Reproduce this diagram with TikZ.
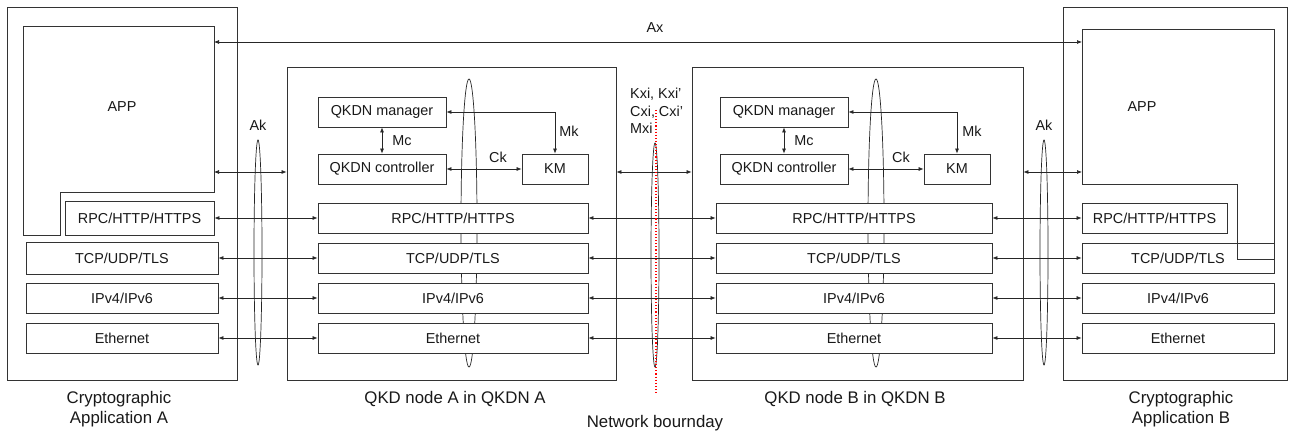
\documentclass[tikz,border=0pt]{standalone}
\usepackage{fontspec}
\setmainfont{Liberation Sans}
\usetikzlibrary{arrows.meta}
\begin{document}
\begin{tikzpicture}[x=1pt,y=-1pt,
  every node/.style={font=\fontsize{14.4}{17}\selectfont, text=black!90},
  box/.style={draw=black!80, line width=0.8pt, fill=white, inner sep=0pt, minimum height=30},
  obox/.style={draw=black!80, line width=0.8pt, inner sep=0pt},
  ln/.style={draw=black!80, line width=0.8pt},
  arr/.style={draw=black!85, line width=0.7pt, {Latex[length=5pt,width=4pt]}-{Latex[length=5pt,width=4pt]}},
  big/.style={font=\fontsize{16.8}{20}\selectfont},
  ell/.style={draw=black!85, line width=0.7pt}]

\fill[white] (0,0) rectangle (1292,435);
\useasboundingbox (0,0) rectangle (1292,435);

% outer frames
\node[obox, minimum width=230, minimum height=373] (appAo) at (122,193.5) {};
\node[obox, minimum width=329, minimum height=313] (nodeA) at (451.5,223.5) {};
\node[obox, minimum width=331, minimum height=313] (nodeB) at (857.5,223.5) {};
\node[obox, minimum width=224, minimum height=373] (appBo) at (1175,193.5) {};

% ellipses inside QKD nodes (partly hidden by boxes)
\draw[ell] (469,223) ellipse [x radius=8, y radius=144];
\draw[ell] (876,223) ellipse [x radius=8, y radius=144];

% Application A
\draw[ln] (23,26) -- (214,26) -- (214,192) -- (60,192) -- (60,235) -- (23,235) -- cycle;
\node (appA) at (122,107) {APP};
\node[obox, minimum width=149, minimum height=34] (rpcA) at (139.5,218) {RPC/HTTP/HTTPS};
\node[obox, minimum width=192, minimum height=32] (tcpA) at (122,258) {TCP/UDP/TLS};
\node[obox, minimum width=192, minimum height=30] (ipA) at (122,298) {IPv4/IPv6};
\node[obox, minimum width=192, minimum height=30] (ethA) at (122,338) {Ethernet};

% QKD node A
\node[box, minimum width=128] (mgrA) at (382,112) {QKDN manager};
\node[box, minimum width=128] (ctrlA) at (382,169) {QKDN controller};
\node[box, minimum width=66] (kmA) at (555,169) {KM};
\node[box, minimum width=270] (rpcN) at (453,218) {RPC/HTTP/HTTPS};
\node[box, minimum width=270] (tcpN) at (453,258) {TCP/UDP/TLS};
\node[box, minimum width=270] (ipN) at (453,298) {IPv4/IPv6};
\node[box, minimum width=270] (ethN) at (453,338) {Ethernet};

% QKD node B
\node[box, minimum width=128] (mgrB) at (784,112) {QKDN manager};
\node[box, minimum width=128] (ctrlB) at (784,169) {QKDN controller};
\node[box, minimum width=66] (kmB) at (957,169) {KM};
\node[box, minimum width=276] (rpcM) at (854,218) {RPC/HTTP/HTTPS};
\node[box, minimum width=276] (tcpM) at (854,258) {TCP/UDP/TLS};
\node[box, minimum width=276] (ipM) at (854,298) {IPv4/IPv6};
\node[box, minimum width=276] (ethM) at (854,338) {Ethernet};

% Application B
\node[obox, minimum width=145, minimum height=30] (rpcB) at (1154.5,218) {RPC/HTTP/HTTPS};
\node[obox, minimum width=192, minimum height=30] (tcpB) at (1178,258) {TCP/UDP/TLS};
\node[obox, minimum width=192, minimum height=30] (ipB) at (1178,298) {IPv4/IPv6};
\node[obox, minimum width=192, minimum height=30] (ethB) at (1178,338) {Ethernet};
\draw[ln] (1082,29) -- (1274,29) -- (1274,259) -- (1237,259) -- (1237,184) -- (1082,184) -- cycle;
\node (appB) at (1142,107) {APP};

% internal connectors
\draw[arr] (mgrA.south) -- (ctrlA.north);
\draw[arr] (mgrA.east) -| (kmA.north);
\draw[arr] (ctrlA.east) -- (kmA.west);
\draw[arr] (mgrB.south) -- (ctrlB.north);
\draw[arr] (mgrB.east) -| (kmB.north);
\draw[arr] (ctrlB.east) -- (kmB.west);
\node (mcA) at (402,141) {Mc};
\node (mkA) at (569,131) {Mk};
\node (ckA) at (498,157) {Ck};
\node (mcB) at (804,141) {Mc};
\node (mkB) at (972,131) {Mk};
\node (ckB) at (901,157) {Ck};

% Ax
\coordinate (axA) at (214,42);
\coordinate (axB) at (1082,42);
\draw[arr] (axA) -- (axB);
\node (ax) at (655,28) {Ax};

% application-level connectors
\coordinate (appAr) at (214,172);
\coordinate (appBl) at (1082,172);
\draw[arr] (appAr) -- (appAr -| nodeA.west);
\draw[arr] (nodeA.east |- appAr) -- (nodeB.west |- appAr);
\draw[arr] (nodeB.east |- appBl) -- (appBl);

% layer connectors
\draw[arr] (rpcA.east) -- (rpcN.west);
\draw[arr] (tcpA.east) -- (tcpN.west);
\draw[arr] (ipA.east) -- (ipN.west);
\draw[arr] (ethA.east) -- (ethN.west);
\draw[arr] (rpcN.east) -- (rpcM.west);
\draw[arr] (tcpN.east) -- (tcpM.west);
\draw[arr] (ipN.east) -- (ipM.west);
\draw[arr] (ethN.east) -- (ethM.west);
\draw[arr] (rpcM.east) -- (rpcB.west);
\draw[arr] (tcpM.east) -- (tcpB.west);
\draw[arr] (ipM.east) -- (ipB.west);
\draw[arr] (ethM.east) -- (ethB.west);

% Ak / boundary ellipses
\draw[ell] (258,252.5) ellipse [x radius=4, y radius=112.5];
\draw[ell] (655,255) ellipse [x radius=4, y radius=112];
\draw[ell] (1044,252.5) ellipse [x radius=4, y radius=112.5];
\node (akA) at (258,125) {Ak};
\node (akB) at (1044,125) {Ak};

% network boundary
\draw[red, dotted, line width=1.1pt] (656,110) -- (656,395);
\node[anchor=base west, inner sep=0] (kx1) at (630,99) {Kxi, Kxi'};
\node[anchor=base west, inner sep=0] (kx2) at (630,116.5) {Cxi, Cxi'};
\node[anchor=base west, inner sep=0] (kx3) at (630,133.5) {Mxi};

% captions
\node[big, anchor=base] (capA1) at (119,403) {Cryptographic};
\node[big, anchor=base] (capA2) at (119,423) {Application A};
\node[big, anchor=base] (capN1) at (455,403) {QKD node A in QKDN A};
\node[big, anchor=base] (capN2) at (855,403) {QKD node B in QKDN B};
\node[big, anchor=base] (capNB) at (655,427) {Network bournday};
\node[big, anchor=base] (capB1) at (1181,403) {Cryptographic};
\node[big, anchor=base] (capB2) at (1181,423) {Application B};
\end{tikzpicture}
\end{document}
